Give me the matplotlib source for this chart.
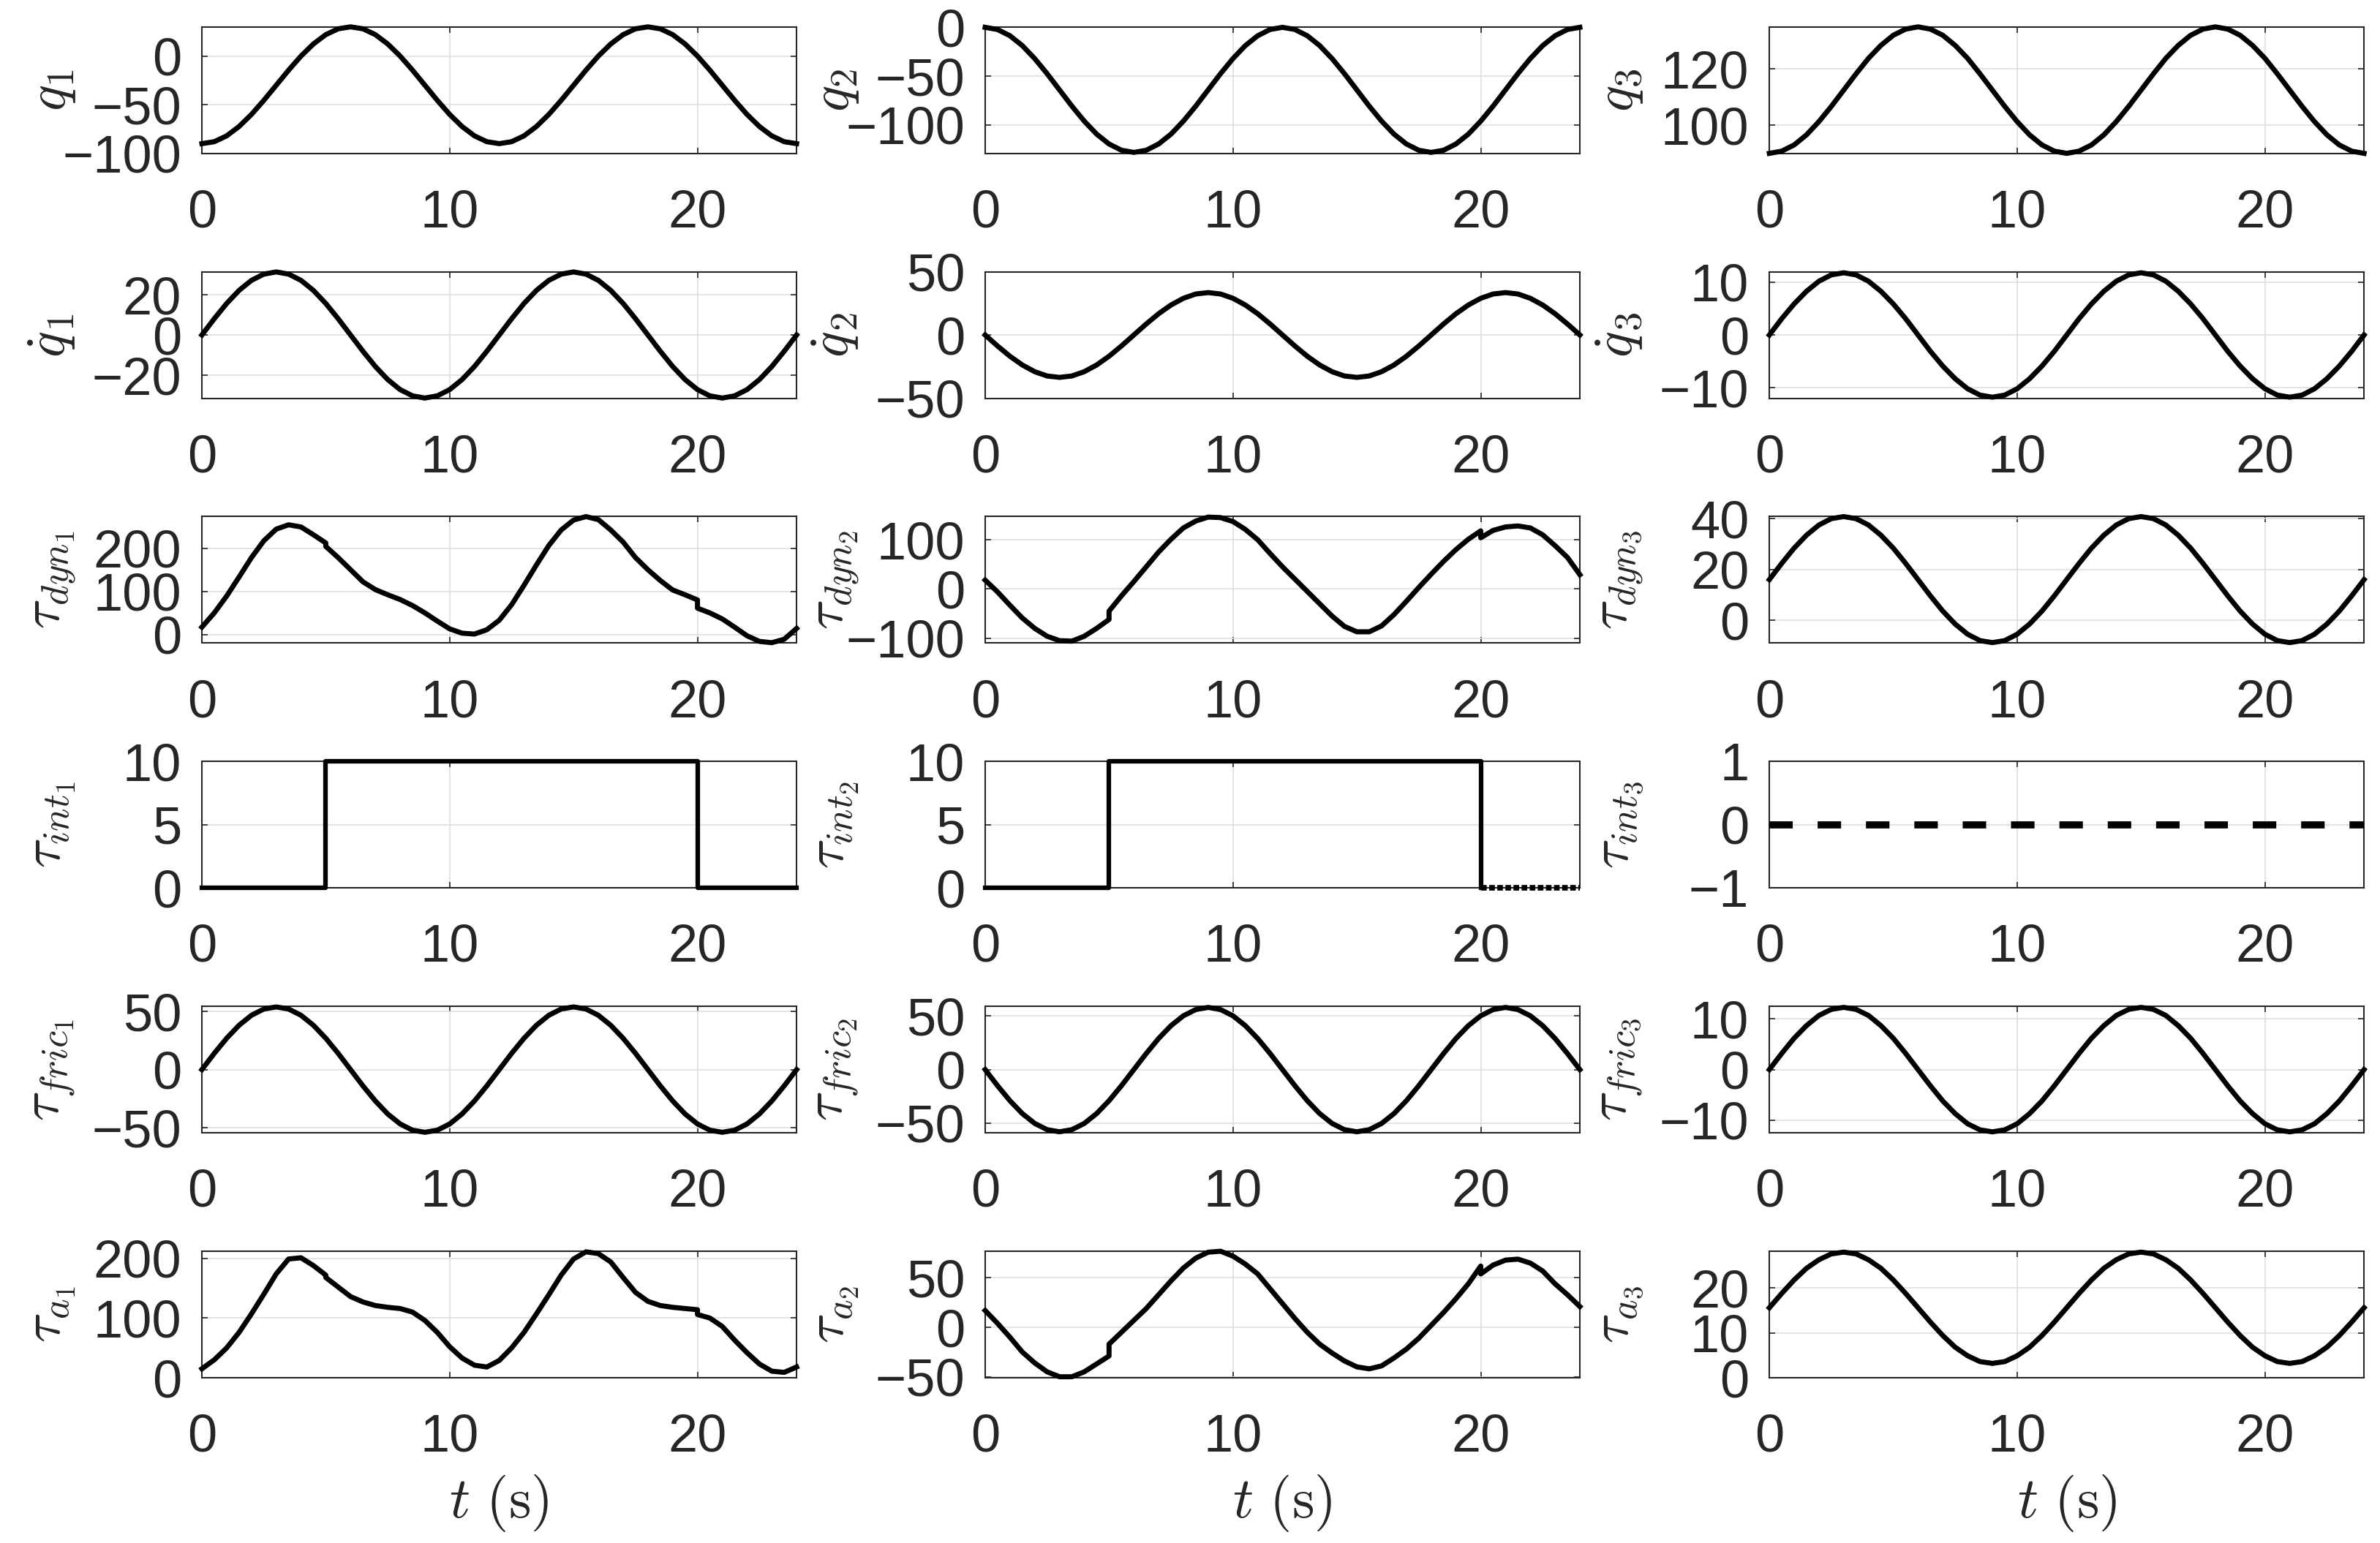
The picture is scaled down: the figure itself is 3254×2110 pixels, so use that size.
import matplotlib
matplotlib.use("Agg")
import matplotlib.pyplot as plt

plt.rcParams['font.family'] = ['Liberation Sans', 'DejaVu Sans']
plt.rcParams['mathtext.fontset'] = 'cm'

# time samples (s) for the smooth signals
t = [0, 0.5, 1, 1.5, 2, 2.5, 3, 3.5, 4, 4.5, 5, 5.5, 6, 6.5, 7, 7.5, 8, 8.5, 9, 9.5,
     10, 10.5, 11, 11.5, 12, 12.5, 13, 13.5, 14, 14.5, 15, 15.5, 16, 16.5, 17, 17.5,
     18, 18.5, 19, 19.5, 20, 20.5, 21, 21.5, 22, 22.5, 23, 23.5, 24]
# time samples for the signals that switch at t = 5 s and t = 20 s (both instants twice)
t_sw = [0, 0.5, 1, 1.5, 2, 2.5, 3, 3.5, 4, 4.5, 5, 5, 5.5, 6, 6.5, 7, 7.5, 8, 8.5, 9, 9.5,
        10, 10.5, 11, 11.5, 12, 12.5, 13, 13.5, 14, 14.5, 15, 15.5, 16, 16.5, 17, 17.5,
        18, 18.5, 19, 19.5, 20, 20, 20.5, 21, 21.5, 22, 22.5, 23, 23.5, 24]

# joint positions
q1 = [-90.0, -88.0, -82.0, -72.4, -60.0, -45.5, -30.0, -14.5, 0.0, 12.4, 22.0, 28.0, 30.0,
      28.0, 22.0, 12.4, 0.0, -14.5, -30.0, -45.5, -60.0, -72.4, -82.0, -88.0, -90.0,
      -88.0, -82.0, -72.4, -60.0, -45.5, -30.0, -14.5, 0.0, 12.4, 22.0, 28.0, 30.0,
      28.0, 22.0, 12.4, 0.0, -14.5, -30.0, -45.5, -60.0, -72.4, -82.0, -88.0, -90.0]
q2 = [0.0, -2.2, -8.6, -18.7, -32.0, -47.4, -64.0, -80.6, -96.0, -109.3, -119.4, -125.8, -128.0,
      -125.8, -119.4, -109.3, -96.0, -80.6, -64.0, -47.4, -32.0, -18.7, -8.6, -2.2, 0.0,
      -2.2, -8.6, -18.7, -32.0, -47.4, -64.0, -80.6, -96.0, -109.3, -119.4, -125.8, -128.0,
      -125.8, -119.4, -109.3, -96.0, -80.6, -64.0, -47.4, -32.0, -18.7, -8.6, -2.2, 0.0]
q3 = [90.0, 90.8, 93.0, 96.6, 101.3, 106.7, 112.5, 118.3, 123.8, 128.4, 132.0, 134.2, 135.0,
      134.2, 132.0, 128.4, 123.8, 118.3, 112.5, 106.7, 101.3, 96.6, 93.0, 90.8, 90.0,
      90.8, 93.0, 96.6, 101.3, 106.7, 112.5, 118.3, 123.8, 128.4, 132.0, 134.2, 135.0,
      134.2, 132.0, 128.4, 123.8, 118.3, 112.5, 106.7, 101.3, 96.6, 93.0, 90.8, 90.0]

# joint velocities
dq1 = [0.0, 8.1, 15.7, 22.2, 27.2, 30.3, 31.4, 30.3, 27.2, 22.2, 15.7, 8.1, 0.0,
       -8.1, -15.7, -22.2, -27.2, -30.3, -31.4, -30.3, -27.2, -22.2, -15.7, -8.1, 0.0,
       8.1, 15.7, 22.2, 27.2, 30.3, 31.4, 30.3, 27.2, 22.2, 15.7, 8.1, 0.0,
       -8.1, -15.7, -22.2, -27.2, -30.3, -31.4, -30.3, -27.2, -22.2, -15.7, -8.1, 0.0]
dq2 = [0.0, -8.7, -16.8, -23.7, -29.0, -32.4, -33.5, -32.4, -29.0, -23.7, -16.8, -8.7, 0.0,
       8.7, 16.8, 23.7, 29.0, 32.4, 33.5, 32.4, 29.0, 23.7, 16.8, 8.7, 0.0,
       -8.7, -16.8, -23.7, -29.0, -32.4, -33.5, -32.4, -29.0, -23.7, -16.8, -8.7, 0.0,
       8.7, 16.8, 23.7, 29.0, 32.4, 33.5, 32.4, 29.0, 23.7, 16.8, 8.7, 0.0]
dq3 = [0.0, 3.1, 5.9, 8.3, 10.2, 11.4, 11.8, 11.4, 10.2, 8.3, 5.9, 3.1, 0.0,
       -3.1, -5.9, -8.3, -10.2, -11.4, -11.8, -11.4, -10.2, -8.3, -5.9, -3.1, 0.0,
       3.1, 5.9, 8.3, 10.2, 11.4, 11.8, 11.4, 10.2, 8.3, 5.9, 3.1, 0.0,
       -3.1, -5.9, -8.3, -10.2, -11.4, -11.8, -11.4, -10.2, -8.3, -5.9, -3.1, 0.0]

# dynamic torques
tau_dyn1 = [17, 50, 89, 133, 178, 217, 244, 254, 249, 231, 212, 204,
            178, 150, 122, 104, 92, 81, 67, 50, 31, 13, 3, 1, 11, 33, 69, 114, 161, 206,
            242, 265, 273, 266, 242, 214, 178, 150, 125, 103, 92, 80, 61,
            50, 36, 17, -3, -16, -19, -11, 14]
tau_dyn2 = [18, -6, -33, -59, -80, -96, -105, -106, -96, -80, -62, -45,
            -14, 15, 45, 75, 101, 124, 138, 146, 145, 137, 121, 100, 72, 45, 20, -5, -30, -55,
            -76, -87, -87, -75, -52, -25, 3, 30, 56, 80, 101, 118, 104,
            119, 126, 128, 124, 110, 88, 64, 29]
tau_dyn3 = [16.0, 22.4, 28.4, 33.5, 37.5, 40.0, 40.8, 40.0, 37.5, 33.5, 28.4, 22.4, 16.0,
            9.6, 3.6, -1.5, -5.5, -8.0, -8.8, -8.0, -5.5, -1.5, 3.6, 9.6, 16.0,
            22.4, 28.4, 33.5, 37.5, 40.0, 40.8, 40.0, 37.5, 33.5, 28.4, 22.4, 16.0,
            9.6, 3.6, -1.5, -5.5, -8.0, -8.8, -8.0, -5.5, -1.5, 3.6, 9.6, 16.0]

# interaction torques
tau_int1 = [0, 0, 0, 0, 0, 0, 0, 0, 0, 0, 0, 10,
            10, 10, 10, 10, 10, 10, 10, 10, 10, 10, 10, 10, 10, 10, 10, 10, 10, 10,
            10, 10, 10, 10, 10, 10, 10, 10, 10, 10, 10, 10, 0,
            0, 0, 0, 0, 0, 0, 0, 0]
tau_int2 = [0, 0, 0, 0, 0, 0, 0, 0, 0, 0, 0, 10,
            10, 10, 10, 10, 10, 10, 10, 10, 10, 10, 10, 10, 10, 10, 10, 10, 10, 10,
            10, 10, 10, 10, 10, 10, 10, 10, 10, 10, 10, 10, 0,
            0, 0, 0, 0, 0, 0, 0, 0]
tau_int3 = [0] * 49

# friction torques
tau_fric1 = [0.0, 14.0, 27.0, 38.2, 46.8, 52.2, 54.0, 52.2, 46.8, 38.2, 27.0, 14.0, 0.0,
             -14.0, -27.0, -38.2, -46.8, -52.2, -54.0, -52.2, -46.8, -38.2, -27.0, -14.0, 0.0,
             14.0, 27.0, 38.2, 46.8, 52.2, 54.0, 52.2, 46.8, 38.2, 27.0, 14.0, 0.0,
             -14.0, -27.0, -38.2, -46.8, -52.2, -54.0, -52.2, -46.8, -38.2, -27.0, -14.0, 0.0]
tau_fric2 = [0.0, -15.0, -29.0, -41.0, -50.2, -56.0, -58.0, -56.0, -50.2, -41.0, -29.0, -15.0, 0.0,
             15.0, 29.0, 41.0, 50.2, 56.0, 58.0, 56.0, 50.2, 41.0, 29.0, 15.0, 0.0,
             -15.0, -29.0, -41.0, -50.2, -56.0, -58.0, -56.0, -50.2, -41.0, -29.0, -15.0, 0.0,
             15.0, 29.0, 41.0, 50.2, 56.0, 58.0, 56.0, 50.2, 41.0, 29.0, 15.0, 0.0]
tau_fric3 = [0.0, 3.2, 6.2, 8.7, 10.7, 11.9, 12.3, 11.9, 10.7, 8.7, 6.2, 3.2, 0.0,
             -3.2, -6.2, -8.7, -10.7, -11.9, -12.3, -11.9, -10.7, -8.7, -6.2, -3.2, 0.0,
             3.2, 6.2, 8.7, 10.7, 11.9, 12.3, 11.9, 10.7, 8.7, 6.2, 3.2, 0.0,
             -3.2, -6.2, -8.7, -10.7, -11.9, -12.3, -11.9, -10.7, -8.7, -6.2, -3.2, 0.0]

# actuator torques
tau_a1 = [15, 30, 50, 76, 107, 140, 174, 199, 201, 188, 172, 168,
          152, 136, 127, 121, 118, 116, 110, 96, 76, 52, 33, 21, 18, 29, 50, 76, 107, 139,
          172, 199, 211, 208, 194, 168, 143, 128, 121, 118, 116, 114, 106,
          100, 86, 63, 42, 23, 11, 9, 18]
tau_a2 = [17, 4, -10, -25, -36, -45, -50, -50, -45, -37, -29, -17,
          -5, 7, 19, 33, 47, 60, 70, 76, 77, 72, 64, 54, 39, 24, 9, -5, -17, -26,
          -34, -40, -42, -39, -31, -22, -11, 2, 15, 29, 44, 62, 54,
          63, 68, 69, 65, 57, 44, 33, 21]
tau_a3 = [15.6, 18.8, 21.8, 24.4, 26.3, 27.6, 28.0, 27.6, 26.3, 24.4, 21.8, 18.8, 15.6,
          12.4, 9.4, 6.8, 4.9, 3.6, 3.2, 3.6, 4.9, 6.8, 9.4, 12.4, 15.6,
          18.8, 21.8, 24.4, 26.3, 27.6, 28.0, 27.6, 26.3, 24.4, 21.8, 18.8, 15.6,
          12.4, 9.4, 6.8, 4.9, 3.6, 3.2, 3.6, 4.9, 6.8, 9.4, 12.4, 15.6]

# (row, col): (x, y, label, ylim, yticks)
panels = {
    (0, 0): (t, q1, r'$q_1$', (-100, 30), [-100, -50, 0]),
    (0, 1): (t, q2, r'$q_2$', (-129, 0.5), [-100, -50, 0]),
    (0, 2): (t, q3, r'$q_3$', (90, 135), [100, 120]),
    (1, 0): (t, dq1, r'$\dot{q}_1$', (-31.5, 31.5), [-20, 0, 20]),
    (1, 1): (t, dq2, r'$\dot{q}_2$', (-50, 50), [-50, 0, 50]),
    (1, 2): (t, dq3, r'$\dot{q}_3$', (-12, 12), [-10, 0, 10]),
    (2, 0): (t_sw, tau_dyn1, r'$\tau_{dyn_1}$', (-20, 273), [0, 100, 200]),
    (2, 1): (t_sw, tau_dyn2, r'$\tau_{dyn_2}$', (-110, 147), [-100, 0, 100]),
    (2, 2): (t, tau_dyn3, r'$\tau_{dyn_3}$', (-9, 40.8), [0, 20, 40]),
    (3, 0): (t_sw, tau_int1, r'$\tau_{int_1}$', (0, 10), [0, 5, 10]),
    (3, 1): (t_sw, tau_int2, r'$\tau_{int_2}$', (0, 10), [0, 5, 10]),
    (3, 2): (t, tau_int3, r'$\tau_{int_3}$', (-1, 1), [-1, 0, 1]),
    (4, 0): (t, tau_fric1, r'$\tau_{fric_1}$', (-54.5, 54.5), [-50, 0, 50]),
    (4, 1): (t, tau_fric2, r'$\tau_{fric_2}$', (-59, 59), [-50, 0, 50]),
    (4, 2): (t, tau_fric3, r'$\tau_{fric_3}$', (-12.5, 12.5), [-10, 0, 10]),
    (5, 0): (t_sw, tau_a1, r'$\tau_{a_1}$', (0, 212), [0, 100, 200]),
    (5, 1): (t_sw, tau_a2, r'$\tau_{a_2}$', (-51, 77), [-50, 0, 50]),
    (5, 2): (t, tau_a3, r'$\tau_{a_3}$', (0, 28.2), [0, 10, 20]),
}

lefts = [0.0848, 0.4138, 0.7432]
bottoms = [0.9006, 0.7419, 0.5832, 0.4245, 0.2658, 0.1071]
w, h = 0.2498, 0.0820
ink = '#262626'

fig = plt.figure(figsize=(32.55, 21.1), dpi=100)

for (r, c), (x, y, lab, ylim, yt) in panels.items():
    ax = fig.add_axes([lefts[c], bottoms[r], w, h])
    if (r, c) == (3, 1):
        # solid until the switch-off, then a broken line at zero
        ax.plot(x[:43], y[:43], color='k', lw=4.5, clip_on=False, zorder=3)
        ax.plot(x[42:], y[42:], color='k', lw=5.5, ls=(0, (1.0, 0.45)),
                clip_on=False, zorder=3)
    elif (r, c) == (3, 0):
        ax.plot(x, y, color='k', lw=4.5, clip_on=False, zorder=3)
    elif (r, c) == (3, 2):
        ax.plot(x, y, color='k', lw=7, dashes=(3.3, 3.5), zorder=3)
    else:
        ax.plot(x, y, color='k', lw=5, clip_on=False, zorder=3)

    ax.set_xlim(0, 24)
    ax.set_ylim(*ylim)
    ax.set_xticks([0, 10, 20])
    ax.set_yticks(yt)
    ax.grid(True, color='#dfdfdf', lw=1.2)
    ax.set_axisbelow(True)
    ax.tick_params(direction='in', top=True, right=True, length=6, width=1.2,
                   labelsize=52, colors=ink)
    ax.tick_params(axis='x', pad=35)
    ax.tick_params(axis='y', pad=20)
    for sp in ax.spines.values():
        sp.set_color(ink)
        sp.set_linewidth(1.5)

    ax.set_ylabel(lab, fontsize=54, color=ink, va='center')
    ax.yaxis.set_label_coords(-0.252, 0.5)
    if r == 5:
        ax.set_xlabel(r'$t\ (\mathrm{s})$', fontsize=56, color=ink, labelpad=10)

fig.savefig('out.png', dpi=100)
